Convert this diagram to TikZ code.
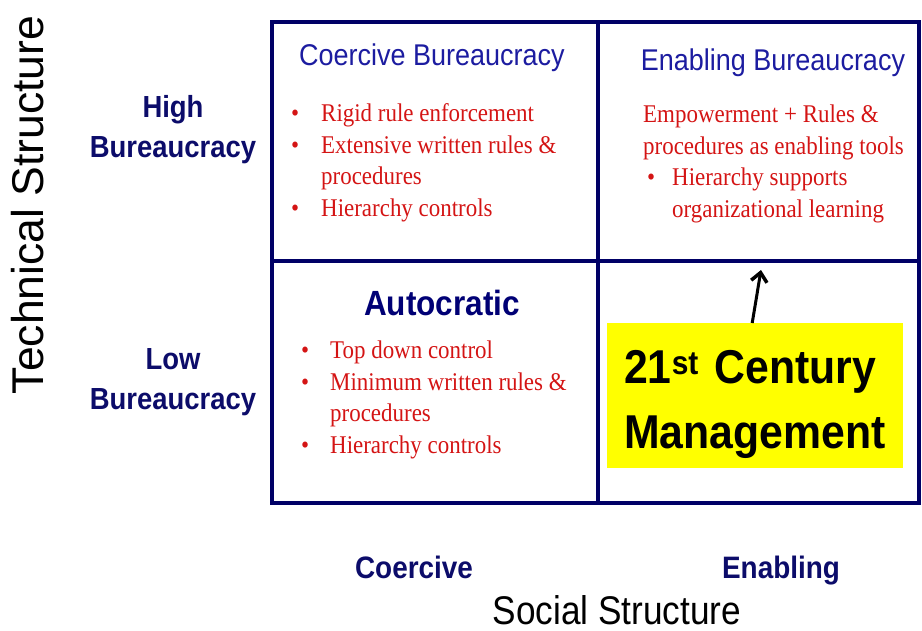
\documentclass[tikz,border=0pt]{standalone}
\usepackage{fontspec}
\setmainfont{Liberation Serif}
\newfontfamily\headsans[FakeStretch=0.9]{Liberation Sans}
\newfontfamily\axissans[FakeStretch=0.88]{Liberation Sans}
\newfontfamily\plainsans{Liberation Sans}
\newfontfamily\listserif[FakeStretch=0.9]{Liberation Serif}
\usetikzlibrary{arrows.meta}
\definecolor{gridnavy}{HTML}{000066}
\definecolor{titleblue}{HTML}{1C1CA0}
\definecolor{listred}{HTML}{D41414}
\definecolor{labelnavy}{HTML}{0C0C6A}
\definecolor{boxyellow}{HTML}{FFFF00}
% bullet in a box of fixed width, so the item texts line up
\newcommand{\blt}[1][30pt]{\makebox[#1][l]{\textbullet}}
\begin{document}
\begin{tikzpicture}[x=1pt, y=-1pt,
    quad title/.style={font=\headsans\fontsize{30}{34}\selectfont, text=titleblue, inner sep=0pt, anchor=base},
    item list/.style={font=\listserif\fontsize{25.5}{31.5}\selectfont, text=listred, align=left, inner sep=0pt, anchor=base west},
    side label/.style={font=\headsans\bfseries\fontsize{30.5}{40}\selectfont, text=labelnavy, align=center, inner sep=0pt},
    axis value/.style={font=\headsans\bfseries\fontsize{31}{34}\selectfont, text=labelnavy, inner sep=0pt, anchor=base},
    axis title/.style={font=\axissans\fontsize{40}{44}\selectfont, text=black, inner sep=0pt}]
    \useasboundingbox (0,0) rectangle (922,630);
    % the 2x2 grid
    \coordinate (nw) at (272,22);
    \coordinate (se) at (919,503);
    \draw[gridnavy, line width=4pt] (nw) rectangle (se);
    \draw[gridnavy, line width=4pt] (598,22) -- (598,503);
    \draw[gridnavy, line width=4pt] (272,261) -- (919,261);

    % top left (lists are placed by their last baseline)
    \node[quad title] (cbTitle) at (432,65) {Coercive Bureaucracy};
    \node[item list] (cbList) at (291,216)
        {\blt Rigid rule enforcement\\
         \blt Extensive written rules \&\\
         \hspace*{30pt}procedures\\
         \blt Hierarchy controls};

    % top right
    \node[quad title] (ebTitle) at (773,70) {Enabling Bureaucracy};
    \node[item list] (ebList) at (643,217)
        {Empowerment + Rules \&\\
         procedures as enabling tools\\
         \hspace*{4pt}\blt[25pt]Hierarchy supports\\
         \hspace*{29pt}organizational learning};

    % bottom left
    \node[quad title, font=\headsans\bfseries\fontsize{35}{40}\selectfont, text=gridnavy!90!blue] (acTitle) at (442,315) {Autocratic};
    \node[item list] (acList) at (301,453)
        {\blt[29pt]Top down control\\
         \blt[29pt]Minimum written rules \&\\
         \hspace*{29pt}procedures\\
         \blt[29pt]Hierarchy controls};

    % bottom right
    \node[fill=boxyellow, anchor=north west, minimum width=296pt, minimum height=145pt,
          inner xsep=17pt, text width=262pt, align=left, text height=40pt, text depth=65pt,
          font=\headsans\bfseries\fontsize{47.5}{65}\selectfont] (mgmt) at (607,323)
        {21\textsuperscript{st} Century\\Management};
    \coordinate (arrowTip) at (761,270);
    \draw[line width=3pt, -{Straight Barb[length=9pt, width=16pt, line width=3.5pt]}] ([xshift=-3pt]mgmt.north) -- (arrowTip);

    % axis labels
    \node[side label] (hiLabel) at (173,130) {High\\Bureaucracy};
    \node[side label] (loLabel) at (173,382) {Low\\Bureaucracy};
    \node[axis value] (coLabel) at (414,578) {Coercive};
    \node[axis value] (enLabel) at (781,578) {Enabling};
    \node[axis title, anchor=base] (socAxis) at (617,624) {Social Structure};
    \node[axis title, font=\plainsans\fontsize{44.5}{48}\selectfont, rotate=90] (techAxis) at (28,205) {Technical Structure};
\end{tikzpicture}
\end{document}
